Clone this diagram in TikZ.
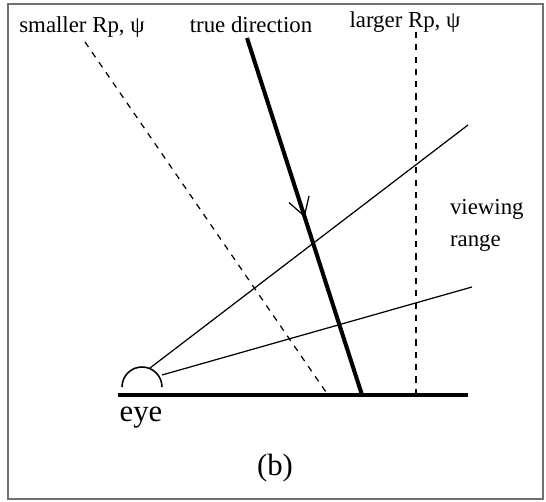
\documentclass[tikz,border=0pt]{standalone}
\usepackage{fontspec}
\setmainfont{Liberation Serif}
\usepackage{tikz}
\usetikzlibrary{arrows.meta, calc}
\definecolor{frameGray}{HTML}{707070}

\begin{document}
\begin{tikzpicture}[
  x=0.02cm, y=0.02cm,
  every node/.style={inner sep=0pt, outer sep=0pt},
  tag/.style={font=\fontsize{13}{15}\selectfont, anchor=base},
  bigtag/.style={font=\fontsize{17.5}{20}\selectfont, anchor=base},
  groundline/.style={line width=2.3pt},
  truedir/.style={line width=2.3pt},
  sight/.style={line width=0.7pt},
  limit/.style={line width=0.7pt, dash pattern=on 3.5pt off 3.5pt},
]
\useasboundingbox (0,0) rectangle (546,502);

% Frame
\draw[frameGray, line width=1pt] (8,3) rectangle (543,498);

% Ground and eye
\coordinate (gleft) at (118,107);
\coordinate (gright) at (468,107);
\coordinate (eye) at (142,115);
\draw[groundline] (gleft) -- (gright);
\draw[line width=0.9pt] ($(eye)+(-20,0)$) arc[start angle=180, end angle=0, radius=0.4cm];
\node[bigtag] (eyelbl) at (141,80) {eye};

% Viewing range
\coordinate (sightA) at (150,134);
\coordinate (sightB) at (162,127);
\coordinate (rangeA) at (468,377);
\coordinate (rangeB) at (472,215);
\draw[sight] (sightA) -- (rangeA);
\draw[sight] (sightB) -- (rangeB);
\node[tag, anchor=base west] (view) at (450,287) {viewing};
\node[tag, anchor=base west] (range) at (450,255) {range};

% True direction
\coordinate (truetop) at (247,464);
\coordinate (truebot) at (362,107);
\draw[truedir] (truetop) -- (truebot);
\coordinate (arrowtail) at ($(truetop)!0.44!(truebot)$);
\coordinate (arrowtip) at ($(truetop)!0.502!(truebot)$);
\draw[sight, -{Straight Barb[length=10pt, width=12pt]}] (arrowtail) -- (arrowtip);
\node[tag] (truelbl) at (251,469) {true direction};

% Smaller and larger Rp
\coordinate (smalltop) at (85,460);
\coordinate (smallbot) at (328,107);
\coordinate (largetop) at (416,470);
\coordinate (largebot) at (416,107);
\draw[limit] (smalltop) -- (smallbot);
\draw[limit] (largetop) -- (largebot);
\node[tag] (smalllbl) at (82,469) {smaller Rp, ψ};
\node[tag] (largelbl) at (405,474) {larger Rp, ψ};

% Panel label
\node[bigtag] (panel) at (275,26) {(b)};

\end{tikzpicture}
\end{document}
